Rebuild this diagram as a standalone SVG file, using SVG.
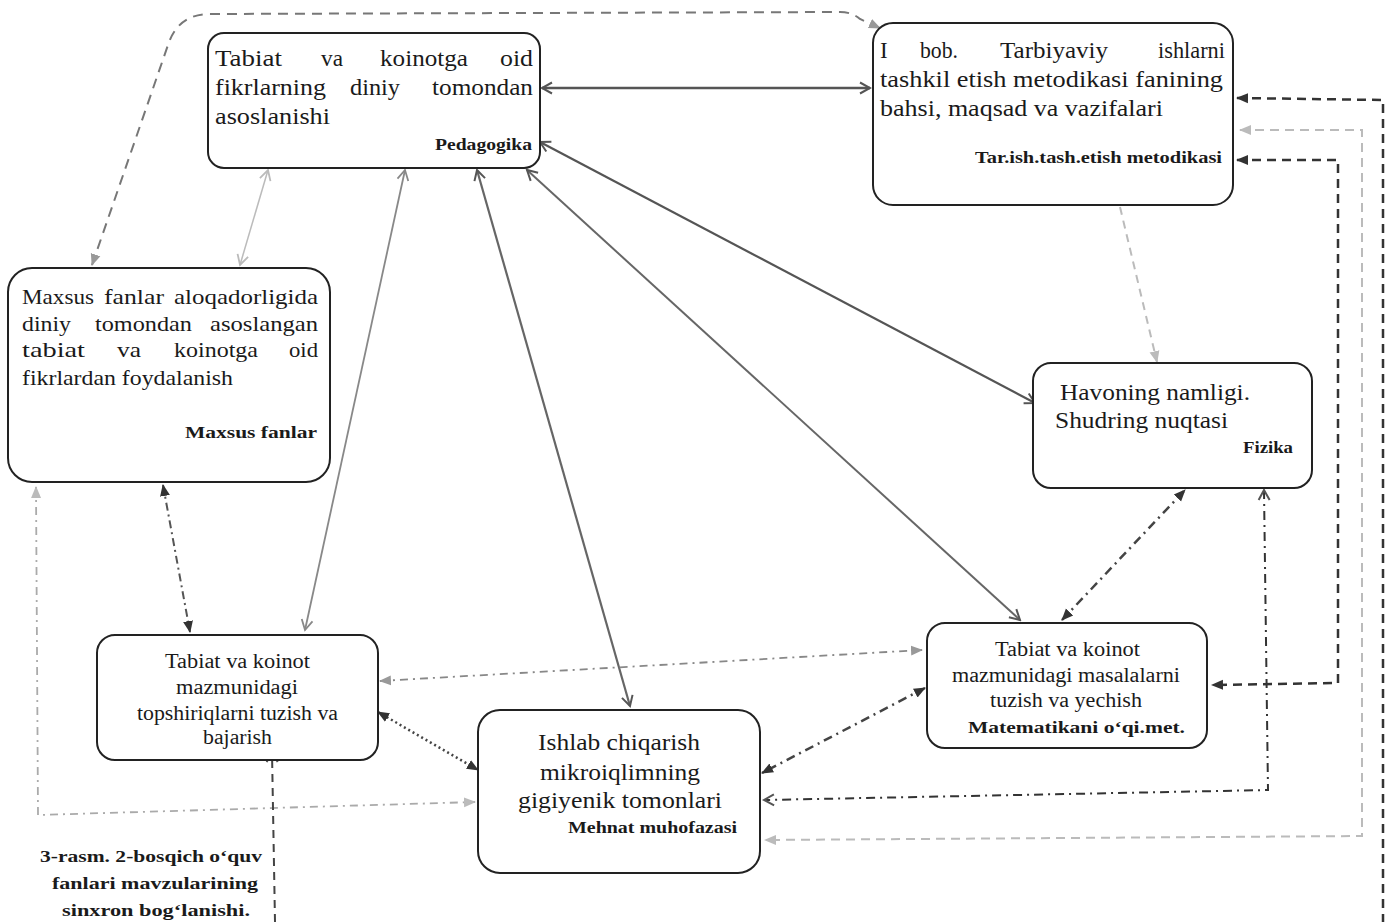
<svg xmlns="http://www.w3.org/2000/svg" width="1390" height="922" viewBox="0 0 1390 922">
<style>
.box{fill:#fff;stroke:#222;stroke-width:2}
.t{font-family:"Liberation Serif","Times New Roman",serif;fill:#1a1a1a}
.b{font-family:"Liberation Serif","Times New Roman",serif;font-weight:bold;fill:#1a1a1a}
.c{fill:none}
</style>
<defs>
<marker id="vd" viewBox="0 0 14 14" refX="12" refY="7" markerWidth="14" markerHeight="14" markerUnits="userSpaceOnUse" orient="auto-start-reverse"><path d="M2,1.5 L12,7 L2,12.5" fill="none" stroke="#555" stroke-width="2"/></marker>
<marker id="vg" viewBox="0 0 14 14" refX="12" refY="7" markerWidth="14" markerHeight="14" markerUnits="userSpaceOnUse" orient="auto-start-reverse"><path d="M2,1.5 L12,7 L2,12.5" fill="none" stroke="#888" stroke-width="1.8"/></marker>
<marker id="vl" viewBox="0 0 14 14" refX="12" refY="7" markerWidth="14" markerHeight="14" markerUnits="userSpaceOnUse" orient="auto-start-reverse"><path d="M2,1.5 L12,7 L2,12.5" fill="none" stroke="#bbb" stroke-width="1.8"/></marker>
<marker id="td" viewBox="0 0 12 12" refX="11" refY="6" markerWidth="12" markerHeight="12" markerUnits="userSpaceOnUse" orient="auto-start-reverse"><path d="M0,1 L12,6 L0,11 z" fill="#333"/></marker>
<marker id="tg" viewBox="0 0 12 12" refX="11" refY="6" markerWidth="12" markerHeight="12" markerUnits="userSpaceOnUse" orient="auto-start-reverse"><path d="M0,1 L12,6 L0,11 z" fill="#999"/></marker>
<marker id="tl" viewBox="0 0 12 12" refX="11" refY="6" markerWidth="12" markerHeight="12" markerUnits="userSpaceOnUse" orient="auto-start-reverse"><path d="M0,1 L12,6 L0,11 z" fill="#bbb"/></marker>
</defs>
<rect width="1390" height="922" fill="#fff"/>
<g id="connectors" class="c">
<path d="M542,88 L870,88" stroke="#555" stroke-width="2.5" marker-start="url(#vd)" marker-end="url(#vd)"/>
<path d="M92,265 L168,45 Q178,14 210,14 L840,12 Q852,12 860,19 L880,28" stroke="#777" stroke-width="2" stroke-dasharray="10 7" marker-start="url(#tg)" marker-end="url(#tg)"/>
<path d="M268,170 L240,265" stroke="#bbb" stroke-width="1.5" marker-start="url(#vl)" marker-end="url(#vl)"/>
<path d="M405,170 L305,630" stroke="#888" stroke-width="1.8" marker-start="url(#vg)" marker-end="url(#vg)"/>
<path d="M477,170 L630,706" stroke="#666" stroke-width="2.2" marker-start="url(#vd)" marker-end="url(#vd)"/>
<path d="M540,142 L1035,403" stroke="#555" stroke-width="2.2" marker-start="url(#vd)" marker-end="url(#vd)"/>
<path d="M527,170 L1020,620" stroke="#666" stroke-width="2" marker-start="url(#vd)" marker-end="url(#vd)"/>
<path d="M1120,207 L1157,362" stroke="#bbb" stroke-width="2" stroke-dasharray="8 6" marker-end="url(#tl)"/>
<path d="M163,485 L190,632" stroke="#555" stroke-width="2" stroke-dasharray="8 4 2 4" marker-start="url(#td)" marker-end="url(#td)"/>
<path d="M36,487 L38,815 L475,802" stroke="#aaa" stroke-width="1.8" stroke-dasharray="8 5 2 5" marker-start="url(#tl)" marker-end="url(#tl)"/>
<path d="M275,922 L272,752" stroke="#444" stroke-width="2" stroke-dasharray="8 6" marker-end="url(#vd)"/>
<path d="M380,681 L922,650" stroke="#888" stroke-width="1.8" stroke-dasharray="8 5 2 5" marker-start="url(#tg)" marker-end="url(#tg)"/>
<path d="M378,712 L478,770" stroke="#444" stroke-width="2.5" stroke-dasharray="2 3" marker-start="url(#td)" marker-end="url(#td)"/>
<path d="M925,688 L762,773" stroke="#444" stroke-width="2.5" stroke-dasharray="9 5 2 5" marker-start="url(#td)" marker-end="url(#td)"/>
<path d="M1062,620 L1185,490" stroke="#444" stroke-width="2.5" stroke-dasharray="9 5 2 5" marker-start="url(#td)" marker-end="url(#td)"/>
<path d="M1264,490 L1268,790 L764,800" stroke="#333" stroke-width="2" stroke-dasharray="9 5 2 5" marker-start="url(#vd)" marker-end="url(#vd)"/>
<path d="M1237,98 L1383,100 L1383,922" stroke="#333" stroke-width="2.5" stroke-dasharray="9 6" marker-start="url(#td)"/>
<path d="M1240,130 L1362,130 L1362,836 L765,840" stroke="#bbb" stroke-width="2" stroke-dasharray="9 6" marker-start="url(#tl)" marker-end="url(#tl)"/>
<path d="M1237,160 L1338,160 L1338,683 L1212,685" stroke="#333" stroke-width="2.5" stroke-dasharray="9 6" marker-start="url(#td)" marker-end="url(#td)"/>
</g>
<g id="pedagogika">
<rect class="box" x="208" y="33" width="332" height="135" rx="16"/>
<g class="t" font-size="23">
<text x="215" y="66" textLength="67" lengthAdjust="spacingAndGlyphs">Tabiat</text><text x="321" y="66" textLength="22" lengthAdjust="spacingAndGlyphs">va</text><text x="380" y="66" textLength="88" lengthAdjust="spacingAndGlyphs">koinotga</text><text x="500" y="66" textLength="33" lengthAdjust="spacingAndGlyphs">oid</text>
<text x="215" y="95" textLength="111" lengthAdjust="spacingAndGlyphs">fikrlarning</text><text x="350" y="95" textLength="50" lengthAdjust="spacingAndGlyphs">diniy</text><text x="432" y="95" textLength="101" lengthAdjust="spacingAndGlyphs">tomondan</text>
<text x="215" y="124" textLength="115" lengthAdjust="spacingAndGlyphs">asoslanishi</text>
</g>
<text class="b" x="435" y="150" font-size="16" textLength="97" lengthAdjust="spacingAndGlyphs">Pedagogika</text>
</g>
<g id="metodika">
<rect class="box" x="873" y="23" width="360" height="182" rx="20"/>
<g class="t" font-size="23">
<text x="880" y="58">I</text><text x="920" y="58" textLength="38" lengthAdjust="spacingAndGlyphs">bob.</text><text x="1000" y="58" textLength="108" lengthAdjust="spacingAndGlyphs">Tarbiyaviy</text><text x="1158" y="58" textLength="67" lengthAdjust="spacingAndGlyphs">ishlarni</text>
<text x="880" y="87" textLength="343" lengthAdjust="spacingAndGlyphs">tashkil etish metodikasi fanining</text>
<text x="880" y="116" textLength="283" lengthAdjust="spacingAndGlyphs">bahsi, maqsad va vazifalari</text>
</g>
<text class="b" x="975" y="163" font-size="16" textLength="247" lengthAdjust="spacingAndGlyphs">Tar.ish.tash.etish metodikasi</text>
</g>
<g id="maxsus">
<rect class="box" x="8" y="268" width="322" height="214" rx="24"/>
<g class="t" font-size="22">
<text x="22" y="304" textLength="72" lengthAdjust="spacingAndGlyphs">Maxsus</text><text x="104" y="304" textLength="60" lengthAdjust="spacingAndGlyphs">fanlar</text><text x="174" y="304" textLength="144" lengthAdjust="spacingAndGlyphs">aloqadorligida</text>
<text x="22" y="331" textLength="49" lengthAdjust="spacingAndGlyphs">diniy</text><text x="95" y="331" textLength="97" lengthAdjust="spacingAndGlyphs">tomondan</text><text x="210" y="331" textLength="108" lengthAdjust="spacingAndGlyphs">asoslangan</text>
<text x="22" y="357" textLength="63" lengthAdjust="spacingAndGlyphs">tabiat</text><text x="117" y="357" textLength="24" lengthAdjust="spacingAndGlyphs">va</text><text x="174" y="357" textLength="84" lengthAdjust="spacingAndGlyphs">koinotga</text><text x="289" y="357" textLength="29" lengthAdjust="spacingAndGlyphs">oid</text>
<text x="22" y="385" textLength="211" lengthAdjust="spacingAndGlyphs">fikrlardan foydalanish</text>
</g>
<text class="b" x="185" y="438" font-size="17" textLength="132" lengthAdjust="spacingAndGlyphs">Maxsus fanlar</text>
</g>
<g id="fizika">
<rect class="box" x="1033" y="363" width="279" height="125" rx="18"/>
<g class="t" font-size="24">
<text x="1060" y="400" textLength="190" lengthAdjust="spacingAndGlyphs">Havoning namligi.</text>
<text x="1055" y="428" textLength="173" lengthAdjust="spacingAndGlyphs">Shudring nuqtasi</text>
</g>
<text class="b" x="1243" y="453" font-size="16" textLength="50" lengthAdjust="spacingAndGlyphs">Fizika</text>
</g>
<g id="topshiriq">
<rect class="box" x="97" y="635" width="281" height="125" rx="18"/>
<g class="t" font-size="20">
<text x="165" y="668" textLength="145" lengthAdjust="spacingAndGlyphs">Tabiat va koinot</text>
<text x="176" y="694" textLength="122" lengthAdjust="spacingAndGlyphs">mazmunidagi</text>
<text x="137" y="720" textLength="201" lengthAdjust="spacingAndGlyphs">topshiriqlarni tuzish va</text>
<text x="203" y="744" textLength="69" lengthAdjust="spacingAndGlyphs">bajarish</text>
</g>
</g>
<g id="matematika">
<rect class="box" x="927" y="623" width="280" height="125" rx="18"/>
<g class="t" font-size="20">
<text x="995" y="656" textLength="145" lengthAdjust="spacingAndGlyphs">Tabiat va koinot</text>
<text x="952" y="682" textLength="228" lengthAdjust="spacingAndGlyphs">mazmunidagi masalalarni</text>
<text x="990" y="707" textLength="152" lengthAdjust="spacingAndGlyphs">tuzish va yechish</text>
</g>
<text class="b" x="968" y="733" font-size="17" textLength="217" lengthAdjust="spacingAndGlyphs">Matematikani o‘qi.met.</text>
</g>
<g id="mehnat">
<rect class="box" x="478" y="710" width="282" height="163" rx="22"/>
<g class="t" font-size="24">
<text x="538" y="750" textLength="162" lengthAdjust="spacingAndGlyphs">Ishlab chiqarish</text>
<text x="540" y="780" textLength="160" lengthAdjust="spacingAndGlyphs">mikroiqlimning</text>
<text x="518" y="808" textLength="204" lengthAdjust="spacingAndGlyphs">gigiyenik tomonlari</text>
</g>
<text class="b" x="568" y="833" font-size="16" textLength="169" lengthAdjust="spacingAndGlyphs">Mehnat muhofazasi</text>
</g>
<g id="caption" class="b" font-size="17">
<text x="40" y="862" textLength="222" lengthAdjust="spacingAndGlyphs">3-rasm. 2-bosqich o‘quv</text>
<text x="52" y="889" textLength="206" lengthAdjust="spacingAndGlyphs">fanlari mavzularining</text>
<text x="62" y="916" textLength="188" lengthAdjust="spacingAndGlyphs">sinxron bog‘lanishi.</text>
</g>
</svg>
